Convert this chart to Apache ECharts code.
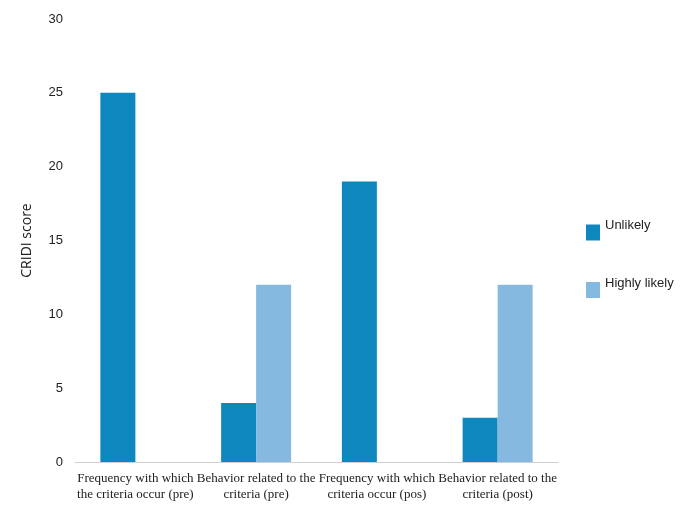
<!DOCTYPE html>
<html>
<head>
<meta charset="utf-8">
<script src="https://cdn.jsdelivr.net/npm/echarts@6/dist/echarts.min.js"></script>
<style>
  html, body { margin: 0; padding: 0; background: #fff; }
  #chart { width: 691px; height: 506px; }
</style>
</head>
<body>
<div id="chart"></div>
<script>
// CRIDI scores per criterion, before and after
const categories = [
  'Frequency with which\nthe criteria occur (pre)',
  'Behavior related to the\ncriteria (pre)',
  'Frequency with which\ncriteria occur (pos)',
  'Behavior related to the\ncriteria (post)'
];
const unlikely = [25, 4, 19, 3];
const highlyLikely = [null, 12, null, 12];
const yTicks = { min: 0, max: 30, interval: 5 };

const chart = echarts.init(document.getElementById('chart'));
chart.setOption({
  animation: false,
  grid: { left: 75, right: 133, top: 19, bottom: 44, containLabel: false },
  legend: {
    orient: 'vertical',
    left: 586,
    top: 219,
    padding: 0,
    itemWidth: 14,
    itemHeight: 16,
    itemGap: 36,
    icon: 'rect',
    formatter: '{t|{name}}',
    textStyle: {
      rich: {
        t: {
          fontFamily: 'Liberation Sans, Arial, sans-serif',
          fontSize: 13,
          color: '#222',
          padding: [0, 0, 14, 0]
        }
      }
    },
    data: ['Unlikely', 'Highly likely']
  },
  xAxis: {
    type: 'category',
    data: categories,
    axisLine: { lineStyle: { color: '#d0d0d0', width: 1 } },
    axisTick: { show: false },
    axisLabel: {
      interval: 0,
      margin: 9,
      fontFamily: 'Liberation Serif, Times New Roman, serif',
      fontSize: 13,
      lineHeight: 16,
      color: '#222'
    }
  },
  yAxis: {
    type: 'value',
    min: yTicks.min,
    max: yTicks.max,
    interval: yTicks.interval,
    name: 'CRIDI score',
    nameLocation: 'middle',
    nameGap: 41,
    nameTextStyle: {
      fontFamily: 'Open Sans, Noto Sans, sans-serif',
      fontSize: 14,
      color: '#222'
    },
    axisLine: { show: false },
    axisTick: { show: false },
    splitLine: { show: false },
    axisLabel: {
      margin: 12,
      fontFamily: 'Liberation Sans, Arial, sans-serif',
      fontSize: 13,
      color: '#222'
    }
  },
  series: [
    {
      name: 'Unlikely',
      type: 'bar',
      data: unlikely,
      barWidth: 35,
      barGap: '0%',
      itemStyle: { color: '#0e87be' }
    },
    {
      name: 'Highly likely',
      type: 'bar',
      data: highlyLikely,
      barWidth: 35,
      barGap: '0%',
      itemStyle: { color: '#86b9df' }
    }
  ]
});
</script>
</body>
</html>
